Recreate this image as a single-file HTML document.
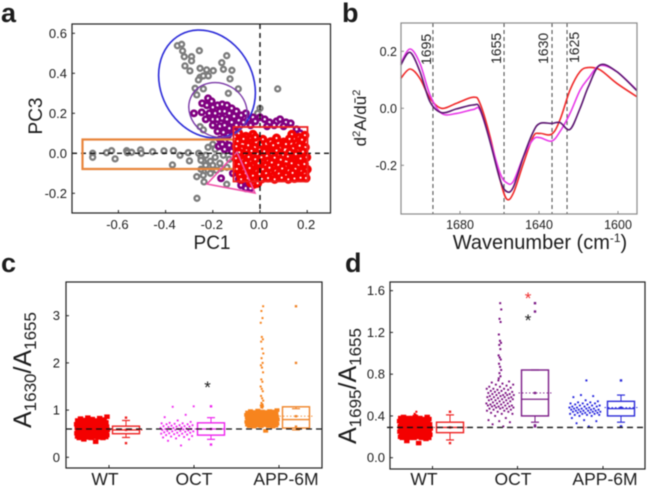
<!DOCTYPE html>
<html lang="en">
<head>
<meta charset="utf-8">
<title>PCA, second-derivative spectra and band ratios</title>
<style>
html,body{margin:0;padding:0;background:#fff;width:647px;height:488px;overflow:hidden}
svg{display:block;filter:blur(.5px)}
text{font-family:"Liberation Sans",sans-serif;fill:#1c1c1c}
</style>
</head>
<body>
<svg id="fig" width="647" height="488" viewBox="0 0 647 488" xmlns="http://www.w3.org/2000/svg">
  <rect width="647" height="488" fill="#fff"/>
  <text x="1" y="22" font-size="27" font-weight="bold" fill="#111">a</text>
  <text x="342" y="22" font-size="27" font-weight="bold" fill="#111">b</text>
  <text x="1" y="272" font-size="27" font-weight="bold" fill="#111">c</text>
  <text x="345" y="272" font-size="27" font-weight="bold" fill="#111">d</text>

  <g id="panelA"></g>
  <g id="panelB"></g>
  <g id="panelC"></g>
  <g id="panelD"></g>

  <text x="212" y="249" font-size="19" text-anchor="middle">PC1</text>
  <text transform="translate(42,116) rotate(-90)" font-size="19" text-anchor="middle">PC3</text>

  <text x="540" y="249" font-size="20" text-anchor="middle">Wavenumber (cm<tspan font-size="12" dy="-7">-1</tspan><tspan dy="7">)</tspan></text>
  <text transform="translate(366,118) rotate(-90)" font-size="17" text-anchor="middle">d<tspan font-size="11" dy="-6">2</tspan><tspan dy="6">A/d</tspan>ū<tspan font-size="11" dy="-6">2</tspan></text>
  <text transform="translate(431,65) rotate(-90)" font-size="14">1695</text>
  <text transform="translate(501,64) rotate(-90)" font-size="14">1655</text>
  <text transform="translate(548,64) rotate(-90)" font-size="14">1630</text>
  <text transform="translate(579,63) rotate(-90)" font-size="14">1625</text>

  <text transform="translate(31,428) rotate(-90)" font-size="25">A<tspan font-size="17" dy="5">1630</tspan><tspan dy="-5">/A</tspan><tspan font-size="17" dy="5">1655</tspan></text>
  <text x="105" y="485" font-size="17.5" text-anchor="middle">WT</text>
  <text x="194" y="485" font-size="17.5" text-anchor="middle">OCT</text>
  <text x="286" y="485" font-size="17.5" text-anchor="middle">APP-6M</text>
  <text x="207.5" y="393" font-size="17" text-anchor="middle" fill="#111">*</text>

  <text transform="translate(356,444) rotate(-90)" font-size="25">A<tspan font-size="17" dy="5">1695</tspan><tspan dy="-5">/A</tspan><tspan font-size="17" dy="5">1655</tspan></text>
  <text x="424" y="485" font-size="17.5" text-anchor="middle">WT</text>
  <text x="513" y="485" font-size="17.5" text-anchor="middle">OCT</text>
  <text x="605" y="485" font-size="17.5" text-anchor="middle">APP-6M</text>
  <text x="528" y="304" font-size="17" text-anchor="middle" style="fill:#f03030">*</text>
  <text x="528" y="326" font-size="17" text-anchor="middle" fill="#111">*</text>
</svg>

<script>
/* ---------- Panel a data ---------- */
const grayPc1=[-.35,-.332,-.328,-.321,-.29,-.29,-.257,-.318,-.297,-.254,-.226,-.198,-.162,-.155,-.141,-.119,-.127,-.254,-.261,-.24,-.219,-.275,-.24,-.134,-.092,.075,-.268,-.254,-.24,-.709,-.709,-.65,-.629,-.614,-.565,-.562,-.544,-.506,-.503,-.455,-.407,-.367,-.339,-.304,-.299,-.371,-.268,-.237,-.141,-.267,-.26,-.25,-.24,-.23,-.21,-.19,-.17,-.22,-.19,-.155,-.25,-.22,-.185,-.14,-.25,-.2,-.23,-.165,-.13,-.21,-.24,-.2,0,-.01];
const grayPc3=[.538,.545,.512,.483,.483,.462,.513,.437,.412,.425,.417,.413,.453,.42,.488,.415,.372,.38,.367,.387,.387,.325,.322,.3,.322,.322,.292,.133,.117,0,-.02,.003,.013,-.028,.013,.003,.005,.017,0,.008,.012,.013,-.01,.003,-.038,-.058,-.117,-.143,-.155,-.225,0,-.02,-.04,-.06,-.04,-.02,-.05,.03,.02,-.01,-.08,-.085,-.085,-.07,-.035,-.06,-.01,-.075,-.03,-.1,-.11,.045,.225,.2];
const purplePc1=[-.28,-.247,-.245,-.22,-.205,-.225,-.2,-.18,-.16,-.14,-.12,-.1,-.08,-.06,-.215,-.19,-.17,-.15,-.13,-.11,-.09,-.23,-.2,-.18,-.16,-.14,-.12,-.1,-.07,-.05,-.03,-.2,-.17,-.15,-.13,-.11,-.18,-.155,-.135,-.04,-.02,0,.02,.04,.07,.085,.11,.13,.155,.03,.06,.1,.17,.18,-.17,-.15,-.13,-.175,-.15,-.12,-.16,-.1,-.165,-.115,-.09,-.08,-.06,-.06,-.04,-.05,-.07,-.03];
const purplePc3=[.2,.205,.25,.275,.26,.24,.23,.24,.245,.24,.225,.21,.19,.2,.2,.2,.21,.21,.2,.185,.165,.17,.17,.17,.175,.17,.155,.14,.155,.17,.18,.14,.135,.14,.125,.11,.11,.105,.09,.14,.16,.18,.17,.155,.16,.17,.155,.15,.12,.135,.14,.135,.1,.07,.07,.06,.04,.035,.02,.01,.045,.06,-.125,-.1,-.13,-.16,-.165,-.175,-.175,-.14,-.12,-.15];
const redPc1=[-.09,-.06,-.03,.135,.165,.19,
-.095,-.07,-.04,-.02,.012,.045,.07,.1,.125,.155,.178,
-.1,-.078,-.05,-.022,.004,.028,.056,.084,.11,.14,.168,.192,
-.088,-.062,-.036,-.01,.018,.05,.07,.098,.126,.152,.182,
-.102,-.072,-.048,-.02,.006,.034,.062,.088,.118,.142,.172,.198,
-.09,-.06,-.032,-.006,.024,.05,.078,.108,.134,.162,.188,
-.098,-.07,-.044,-.014,.012,.04,.066,.094,.122,.15,.176,.2,
-.085,-.06,-.03,-.002,.026,.056,.08,.11,.138,.165,.19,
-.08,-.052,-.022,.008,.034,.062,.092,.12,.146,.172,.195,
-.04,-.025,-.01];
const redPc3=[.1,.085,.095,.095,.08,.09,
.06,.072,.052,.08,.07,.058,.076,.056,.072,.05,.068,
.035,.022,.04,.03,.044,.02,.04,.026,.046,.024,.038,.03,
.005,-.008,.012,-.004,.01,-.002,.014,-.01,.006,-.004,.008,
-.025,-.035,-.018,-.03,-.02,-.038,-.022,-.032,-.016,-.036,-.026,-.02,
-.055,-.048,-.062,-.05,-.06,-.046,-.058,-.066,-.05,-.06,-.054,
-.078,-.085,-.074,-.09,-.08,-.072,-.088,-.076,-.086,-.078,-.09,-.08,
-.108,-.1,-.112,-.104,-.1,-.114,-.102,-.11,-.098,-.112,-.104,
-.13,-.125,-.136,-.128,-.124,-.13,-.122,-.13,-.126,-.122,-.124,
-.148,-.155,-.15];
const aXTicks=[-0.6,-0.4,-0.2,0,0.2];
const aYTicks=[-0.2,0,0.2,0.4,0.6];

/* ---------- Panel b data ---------- */
const wavenumbers=[1710,1705.3,1700.3,1695.2,1689.3,1681.7,1673.2,1669.9,1664.8,1659.7,1656.4,1653,1647.9,1642.9,1639.5,1633.6,1629.4,1624.3,1619.2,1615,1609.1,1600.7,1590.5];
const spectrumRed=[.105,.138,.105,.035,0,.018,.039,.018,-.099,-.251,-.318,-.298,-.193,-.099,-.088,-.091,-.041,.064,.129,.143,.135,.088,.041];
const spectrumMagenta=[.158,.208,.158,.047,-.018,-.018,-.004,-.006,-.111,-.228,-.261,-.257,-.17,-.109,-.103,-.115,-.082,-.018,.064,.105,.15,.129,.064];
const spectrumPurple=[.152,.196,.129,.023,-.015,-.002,.012,0,-.117,-.251,-.292,-.277,-.17,-.082,-.053,-.053,-.05,-.074,0,.076,.152,.129,.062];
const peakWavenumbers=[1693.7,1657.7,1633.4,1625.8];
const bXTicks=[1680,1640,1600];
const bYTicks=[-0.2,0,0.2];

/* ---------- Panel c data ---------- */
const cWtValues=[.58,.44,.72,.51,.66,.47,.8,.55,.62,.42,.7,.53,.6,.76,.46,.64,.5,.68,.56,.41,.74,.59,.49,.83,.63,.54,.45,.69,.57,.78,.48,.65,.52,.43,.71,.61,.86,.56,.46,.67,.5,.75,.6,.44,.64,.53,.7,.41,.58,.79,.49,.62,.55,.73,.47,.66,.52,.43,.6,.77,.57,.45,.68,.51,.63,.81,.48,.56,.72,.42,.65,.54,.46,.7,.59,.5,.75,.61,.44,.67,.53,.84,.57,.47,.64,.41,.71,.55,.49,.62,.78,.45,.6,.52,.69,.33,.58,.43,.74,.5,.66,.56,.38,.63,.48,.72,.54,.46,.6,.82];
const cOctValues=[.6,.25,.72,.5,.66,.45,.58,.85,.55,.68,.38,.62,.52,.7,.42,.6,1.08,.56,.65,.48,.73,.58,.35,.63,.5,.9,.54,.7,.46,.6,.66,.78,.52,.62,.44,.57,.72,.49,1.07,.64,.55,.68,.4,.59,.75,.51,.61,.47,.67,.56,.71,.53,.6,.43,.65];
const cAppValues=[.82,.7,.94,.76,.88,.68,.98,.79,.85,.72,.91,.66,.83,.75,.96,.8,.69,.87,.74,.92,.78,.84,.67,.99,.77,.89,.71,.86,.81,.73,.95,.65,.83,.79,.9,.7,.85,.76,.97,.72,.88,.81,.68,.93,.75,.84,.78,.66,.91,.74,.86,.8,.69,1,.77,.87,.72,.83,.94,.7,.79,.89,.75,.85,.67,.92,.81,.73,.96,.78,.86,.68,.9,.76,.82,.71,.98,.84,.74,.88,.66,.8,.93,.77,.85,.7,.91,.79,.73,.87,.83,.69,.95,.75,.81,.89,.72,.86,.78,.65,.92,.84,.76,.97,.7,.82,.88,.74,.8,.56,
3.2,3.1,2.95,2.85,2.55,2.5,2.45,2.3,2.2,2.1,2,1.95,1.9,1.8,1.65,1.6,1.5,1.45,1.4,1.3,1.25,1.2,1.15,1.12,1.1,1.1,1.08,1.06,1.05];
const cBoxLow=[.42,.38,.58];
const cBoxQ1=[.5,.47,.62];
const cBoxMedian=[.58,.6,.8];
const cBoxQ3=[.66,.73,1.07];
const cBoxHigh=[.78,.84,1.03];
const cBoxMean=[.58,.6,.87];
const cOutlierWt=[.3,.84];
const cOutlierOct=[.27,1.08];
const cOutlierApp=[.65,2,3.2];
const cYTicks=[0,1,2,3];
const cBaseline=0.6;

/* ---------- Panel d data ---------- */
const dWtValues=[.29,.21,.35,.25,.31,.2,.37,.27,.33,.22,.3,.38,.24,.28,.34,.19,.26,.36,.23,.32,.29,.2,.39,.27,.31,.22,.35,.25,.3,.44,.21,.33,.28,.19,.37,.24,.32,.26,.38,.2,.29,.34,.23,.27,.36,.21,.31,.25,.39,.28,.22,.33,.19,.3,.42,.26,.35,.24,.29,.2,.37,.27,.32,.23,.14,.31,.38,.25,.28,.21,.34,.3,.19,.36,.26,.33,.22,.29,.39,.24,.16,.31,.27,.2,.35,.28,.23,.37,.25,.32,.21,.3,.38,.26,.34,.19,.29,.41,.24,.33,.22,.36,.27,.31,.2,.28,.35,.25,.3,.18];
const dOctValues=[.58,.48,.66,.52,.42,.7,.55,.62,.46,.6,.68,.5,.35,.64,.56,.44,.72,.49,.6,.53,.66,.47,.58,.38,.7,.51,.63,.45,.57,.65,.5,.32,.61,.54,.74,.48,.59,.67,.43,.52,.62,.56,.4,.69,.49,.6,.46,.55,.64,.51,.3,.58,.71,.47,.53,.63,.44,.57,.66,.5,.6,.36,.54,.68,.48,.59,.45,.62,.52,.73,.49,.56,.34,.61,.47,.65,.5,.58,.42,.55,
1.48,1.42,1.33,1.3,1.18,1.12,1.1,1.08,1.04,.98,.96,.94,.9,.87,.84,.81,.78,.76];
const dAppValues=[.45,.52,.41,.48,.55,.43,.5,.46,.59,.42,.47,.53,.44,.49,.6,.4,.46,.51,.43,.48,.36,.54,.45,.41,.5,.47,.33,.44,.52,.42,.49,.46,.58,.4,.48,.43,.3,.51,.45,.47,.38,.44,.53,.41,.46,.74,.49,.35,.43,.47,.52,.42,.45,.5,.44];
const dBoxLow=[.17,.34,.34];
const dBoxQ1=[.24,.4,.4];
const dBoxMedian=[.29,.56,.47];
const dBoxQ3=[.34,.84,.54];
const dBoxHigh=[.41,.84,.6];
const dBoxMean=[.29,.62,.48];
const dOutlierWt=[.14,.44];
const dOutlierOct=[.3,.31,1.4,1.48];
const dOutlierApp=[.3,.74];
const dYTicks=[0,.4,.8,1.2,1.6];
const dBaseline=0.29;

/* ---------- helpers ---------- */
const NS='http://www.w3.org/2000/svg';
function mk(parent,tag,attrs){
  const el=document.createElementNS(NS,tag);
  for(const k in attrs) el.setAttribute(k,attrs[k]);
  parent.appendChild(el);
  return el;
}
function line(parent,x1,y1,x2,y2,stroke,width,dash,name){
  const el=mk(parent,'line',{x1,y1,x2,y2,stroke,'stroke-width':width});
  if(dash) el.setAttribute('stroke-dasharray',dash);
  
  
  return el;
}
function tickText(parent,x,y,str,anchor,size,name){
  const el=mk(parent,'text',{x,y,'text-anchor':anchor,'font-size':size});
  el.textContent=str;
  
  
  return el;
}
function frame(parent,x0,y0,x1,y1,color,width,name){
  const el=mk(parent,'rect',{x:x0,y:y0,width:x1-x0,height:y1-y0,fill:'none',stroke:color,'stroke-width':width});
  
  
  return el;
}
function rings(parent,xs,ys,sx,sy,color,r,sw,name){
  xs.forEach((v,i)=>{
    const el=mk(parent,'circle',{cx:sx(v),cy:sy(ys[i]),r,fill:'#fff',stroke:color,'stroke-width':sw});
    
    
  });
}

/* ---------- Panel a ---------- */
(function(){
  const g=document.getElementById('panelA');
  const sx=v=>260+v*236;
  const sy=v=>153.3-v*200;
  const L=72,R=330.5,T=24,B=213;
  rings(g,grayPc1,grayPc3,sx,sy,'#7c7c7c',2.5,2.3,'pca-point-gray');
  rings(g,purplePc1,purplePc3,sx,sy,'#800080',2.6,2.7,'pca-point-purple');
  rings(g,redPc1,redPc3,sx,sy,'#f40000',2.8,3.5,'pca-point-red');

  line(g,260,T,260,B,'#111',1.4,'5 4','pc1-zero-line');
  line(g,L,153.3,R,153.3,'#111',1.4,'5 4','pc3-zero-line');

  const blue=mk(g,'ellipse',{cx:207,cy:84,rx:56,ry:46,transform:'rotate(62 207 84)',fill:'none',stroke:'#2a2ad8','stroke-width':1.6});
  
  
  const vio=mk(g,'ellipse',{cx:218,cy:110,rx:30,ry:26.5,transform:'rotate(30 218 110)',fill:'none',stroke:'#7b3aa8','stroke-width':1.4});
  
  
  const orange=mk(g,'polyline',{points:'235,139.5 82.5,139.5 82.5,169 235,169',fill:'none',stroke:'#e8853c','stroke-width':2.2});
  
  
  const tri=mk(g,'polygon',{points:'207,184 237,152 255,193',fill:'none',stroke:'#f050a8','stroke-width':1.6});
  
  
  const redBox=mk(g,'rect',{x:233.5,y:127,width:74,height:54.5,fill:'none',stroke:'#ee2020','stroke-width':1.8});
  
  

  frame(g,L,T,R,B,'#222',1.2,'panel-a-frame');
  aXTicks.forEach(v=>{
    line(g,sx(v),B,sx(v),B-3,'#222',1,null,'panel-a-x-tick');
    tickText(g,sx(v)-1,229,v.toFixed(1),'middle',13,'panel-a-x-tick-label');
  });
  aYTicks.forEach(v=>{
    line(g,L,sy(v),L+3,sy(v),'#222',1,null,'panel-a-y-tick');
    tickText(g,67,sy(v)+4.5,v.toFixed(1),'end',13,'panel-a-y-tick-label');
  });
})();

/* ---------- Panel b ---------- */
(function(){
  const g=document.getElementById('panelB');
  const sx=v=>460+(1680-v)*1.975;
  const sy=v=>108.3-v*285;
  const L=401,R=637,T=23,B=214;
  peakWavenumbers.forEach(w=>{
    line(g,sx(w),T,sx(w),B,'#555',1.1,'4 3','peak-guide-line');
  });
  function smooth(vals){
    const p=vals.map((v,i)=>[sx(wavenumbers[i]),sy(v)]);
    let d='M'+p[0][0].toFixed(1)+' '+p[0][1].toFixed(1);
    for(let i=0;i<p.length-1;i++){
      const a=p[Math.max(i-1,0)],b=p[i],c=p[i+1],e=p[Math.min(i+2,p.length-1)];
      d+=' C'+(b[0]+(c[0]-a[0])/6).toFixed(1)+' '+(b[1]+(c[1]-a[1])/6).toFixed(1)+' '+(c[0]-(e[0]-b[0])/6).toFixed(1)+' '+(c[1]-(e[1]-b[1])/6).toFixed(1)+' '+c[0].toFixed(1)+' '+c[1].toFixed(1);
    }
    return d;
  }
  const s1=mk(g,'path',{d:smooth(spectrumRed),fill:'none',stroke:'#f02828','stroke-width':1.6});
  
  
  const s2=mk(g,'path',{d:smooth(spectrumMagenta),fill:'none',stroke:'#e838e8','stroke-width':1.6});
  
  
  const s3=mk(g,'path',{d:smooth(spectrumPurple),fill:'none',stroke:'#5a1470','stroke-width':1.6});
  
  
  frame(g,L,T,R,B,'#8a8a8a',1.2,'panel-b-frame');
  bXTicks.forEach(v=>{
    line(g,sx(v),B,sx(v),B-3,'#888',1,null,'panel-b-x-tick');
    tickText(g,sx(v),229,String(v),'middle',12.5,'panel-b-x-tick-label');
  });
  bYTicks.forEach(v=>{
    line(g,L,sy(v),L+3,sy(v),'#888',1,null,'panel-b-y-tick');
    tickText(g,397,sy(v)+4.5,v.toFixed(1),'end',12.5,'panel-b-y-tick-label');
  });
})();

/* ---------- Panels c and d ---------- */
function swarm(g,values,cx,sy,hw,narrowAbove,color,sizeW,sizeH,name){
  /* horizontal jitter follows each value's rank so the cloud spreads evenly */
  const order=values.map((v,i)=>i).sort((a,b)=>values[a]-values[b]);
  const rank=[];
  order.forEach((idx,r)=>{rank[idx]=r;});
  values.forEach((v,i)=>{
    const f=((rank[i]+1)*0.61803)%1;
    const tail=v>narrowAbove;
    const w=tail?1.4:hw;
    const sw=tail?2:sizeW;
    const sh=tail?2:sizeH;
    const el=mk(g,'rect',{x:cx+(f*2-1)*w-sw/2,y:sy(v)-sh/2,width:sw,height:sh,fill:color});
    
    
  });
}
function box(g,cx,sy,low,q1,med,q3,high,mean,outliers,color,name){
  const hw=13.5;
  line(g,cx,sy(high),cx,sy(q3),color,1,null,name+'-upper-whisker');
  line(g,cx,sy(q1),cx,sy(low),color,1,null,name+'-lower-whisker');
  line(g,cx-4,sy(high),cx+4,sy(high),color,1.2,null,name+'-upper-cap');
  line(g,cx-4,sy(low),cx+4,sy(low),color,1.2,null,name+'-lower-cap');
  const r=mk(g,'rect',{x:cx-hw,y:sy(q3),width:hw*2,height:sy(q1)-sy(q3),fill:'none',stroke:color,'stroke-width':1.4});
  
  
  line(g,cx-hw,sy(med),cx+hw,sy(med),color,1.3,null,name+'-median');
  line(g,cx-hw-3,sy(mean),cx+hw+3,sy(mean),color,.9,'1.5 2',name+'-mean-line');
  const m=mk(g,'rect',{x:cx-1.2,y:sy(mean)-1.2,width:2.4,height:2.4,fill:color});
  
  
  outliers.forEach(v=>{
    const o=mk(g,'rect',{x:cx-1.2,y:sy(v)-1.2,width:2.4,height:2.4,fill:color});
    
    
  });
}
function ratioAxes(g,L,R,T,B,sy,yTicks,fmt,catX,labelX,prefix){
  frame(g,L,T,R,B,'#222',1.2,prefix+'-frame');
  catX.forEach(x=>{
    line(g,x,B,x,B-3,'#222',1,null,prefix+'-x-tick');
  });
  yTicks.forEach(v=>{
    line(g,L,sy(v),L+3,sy(v),'#222',1,null,prefix+'-y-tick');
    tickText(g,labelX,sy(v)+4.5,fmt(v),'end',13,prefix+'-y-tick-label');
  });
}
(function(){
  const g=document.getElementById('panelC');
  const sy=v=>457.3-v*47.2;
  const cats=[109,194,279];
  swarm(g,cWtValues,cats[0]-17,sy,15.5,9,'#f40000',5.5,4.5,'wt-scatter-point');
  swarm(g,cOctValues,cats[1]-17,sy,17,1.2,'#f02cf0',1.9,1.9,'oct-scatter-point');
  swarm(g,cAppValues,cats[2]-17,sy,15.5,1.04,'#f7841e',5,3.6,'app-scatter-point');
  box(g,cats[0]+17,sy,cBoxLow[0],cBoxQ1[0],cBoxMedian[0],cBoxQ3[0],cBoxHigh[0],cBoxMean[0],cOutlierWt,'#ee2020','wt-box');
  box(g,cats[1]+17,sy,cBoxLow[1],cBoxQ1[1],cBoxMedian[1],cBoxQ3[1],cBoxHigh[1],cBoxMean[1],cOutlierOct,'#ee22ee','oct-box');
  box(g,cats[2]+17,sy,cBoxLow[2],cBoxQ1[2],cBoxMedian[2],cBoxQ3[2],cBoxHigh[2],cBoxMean[2],cOutlierApp,'#f08428','app-box');
  line(g,66,sy(cBaseline),322,sy(cBaseline),'#111',1.3,'6 4','reference-line');
  ratioAxes(g,66,322,282,468,sy,cYTicks,v=>String(v),cats,60,'panel-c');
})();
(function(){
  const g=document.getElementById('panelD');
  const sy=v=>457.7-v*104.4;
  const cats=[432.5,517.5,603];
  swarm(g,dWtValues,cats[0]-17.5,sy,15.5,.4,'#f40000',5.5,4.5,'wt-scatter-point');
  swarm(g,dOctValues,cats[1]-17.5,sy,14,.75,'#7a0f80',1.9,1.9,'oct-scatter-point');
  swarm(g,dAppValues,cats[2]-18,sy,16,.65,'#2222dd',1.9,1.9,'app-scatter-point');
  box(g,cats[0]+17.5,sy,dBoxLow[0],dBoxQ1[0],dBoxMedian[0],dBoxQ3[0],dBoxHigh[0],dBoxMean[0],dOutlierWt,'#ee2020','wt-box');
  box(g,cats[1]+17.5,sy,dBoxLow[1],dBoxQ1[1],dBoxMedian[1],dBoxQ3[1],dBoxHigh[1],dBoxMean[1],dOutlierOct,'#7a1a86','oct-box');
  box(g,cats[2]+18,sy,dBoxLow[2],dBoxQ1[2],dBoxMedian[2],dBoxQ3[2],dBoxHigh[2],dBoxMean[2],dOutlierApp,'#2a2ad8','app-box');
  line(g,387,sy(dBaseline),645,sy(dBaseline),'#111',1.3,'6 4','reference-line');
  ratioAxes(g,390,645,282,469,sy,dYTicks,v=>v.toFixed(1),cats,385,'panel-d');
})();
</script>
</body>
</html>
